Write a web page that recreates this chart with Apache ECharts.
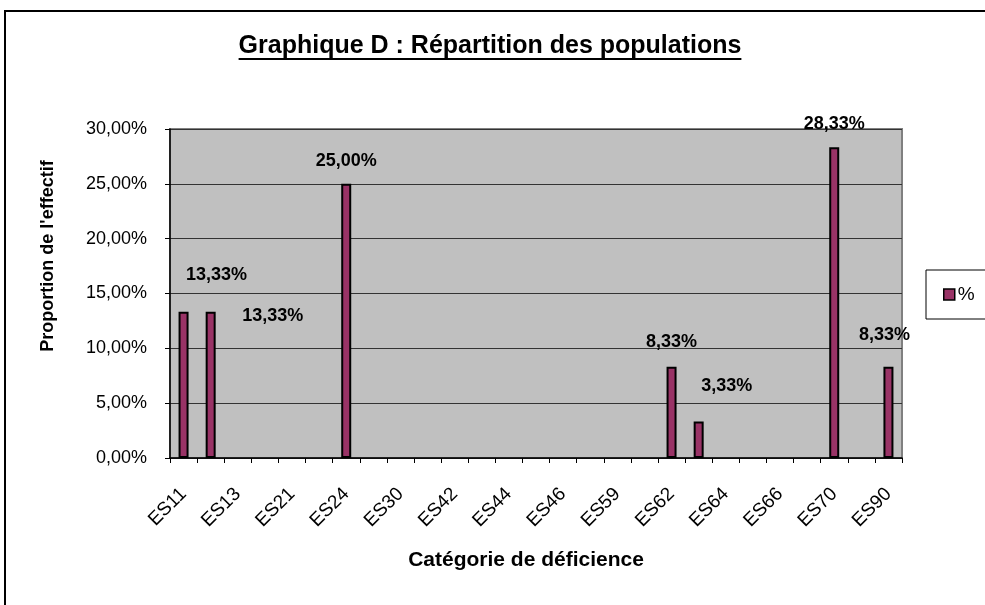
<!DOCTYPE html>
<html>
<head>
<meta charset="utf-8">
<script src="https://cdn.jsdelivr.net/npm/echarts@6/dist/echarts.min.js"></script>
<style>
  html, body { margin: 0; padding: 0; background: #fff; }
  #chart { width: 985px; height: 605px; }
</style>
</head>
<body>
<div id="chart"></div>
<script>
// 27 categories; only every other label is printed on the axis (odd-index codes are hidden, guessed)
const categories = ['ES11','ES12','ES13','ES14','ES21','ES22','ES24','ES25','ES30','ES41','ES42','ES43','ES44','ES45',
                    'ES46','ES47','ES59','ES60','ES62','ES63','ES64','ES65','ES66','ES68','ES70','ES80','ES90'];
const values = [13.33,13.33,null,null,null,null,25.00,null,null,null,null,null,null,null,
                null,null,null,null,8.33,3.33,null,null,null,null,28.33,null,8.33];
const yTicks = [0,5,10,15,20,25,30];
const seriesName = '%';
const titleText = 'Graphique D : Répartition des populations';
const xName = 'Catégorie de déficience';
const yName = "Proportion de l'effectif";

// label displacement (style only) for the bar labels that were moved in the original
const labelOffsets = { 0: [33, -14], 1: [62, 27], 19: [28, -12], 26: [-4, -9], 18: [0, -2] };

const FONT = 'Arial, "Liberation Sans", sans-serif';
const fmt = v => v.toFixed(2).replace('.', ',') + '%';

const chart = echarts.init(document.getElementById('chart'), null, { renderer: 'canvas' });

const ctx = document.createElement('canvas').getContext('2d');
ctx.font = 'bold 25px ' + FONT;
const titleW = ctx.measureText(titleText).width;

const seriesData = values.map((v, i) => {
  const item = { value: v };
  if (labelOffsets[i]) item.label = { offset: labelOffsets[i] };
  return item;
});

chart.setOption({
  backgroundColor: '#ffffff',
  animation: false,
  textStyle: { fontFamily: FONT },
  graphic: [
    { type: 'rect', shape: { x: 5, y: 11, width: 1100, height: 700 },
      style: { fill: 'none', stroke: '#000', lineWidth: 2 }, z: 100 },
    { type: 'text', x: 490, y: 46,
      style: { text: titleText, fill: '#000', font: 'bold 25px ' + FONT,
               align: 'center', verticalAlign: 'middle' }, z: 100 },
    { type: 'line', shape: { x1: 490 - titleW / 2, y1: 59, x2: 490 + titleW / 2, y2: 59 },
      style: { stroke: '#000', lineWidth: 2 }, z: 100 },
    { type: 'text', x: 526, y: 560,
      style: { text: xName, fill: '#000', font: 'bold 21px ' + FONT,
               align: 'center', verticalAlign: 'middle' }, z: 100 },
    { type: 'text', x: 48, y: 256, rotation: Math.PI / 2,
      style: { text: yName, fill: '#000', font: 'bold 18px ' + FONT,
               align: 'center', verticalAlign: 'middle' }, z: 100 }
  ],
  legend: {
    left: 926, top: 270,
    orient: 'vertical',
    data: [seriesName],
    icon: 'rect',
    itemWidth: 11, itemHeight: 11,
    itemGap: 4,
    padding: [15, 20, 15, 17],
    borderColor: '#000', borderWidth: 1,
    backgroundColor: '#fff',
    textStyle: { fontSize: 19, color: '#000', padding: [0, 0, 0, -2] },
    itemStyle: { borderColor: '#000', borderWidth: 1.5 }
  },
  grid: {
    left: 170, right: 83, top: 129, bottom: 147,
    show: true, backgroundColor: '#C0C0C0', borderColor: '#808080', borderWidth: 2
  },
  xAxis: {
    type: 'category',
    data: categories,
    boundaryGap: true,
    axisLine: { show: true, lineStyle: { color: '#000', width: 1.5 } },
    axisTick: { show: true, interval: 0, length: 5, lineStyle: { color: '#000' } },
    axisLabel: { interval: 1, rotate: 45, fontSize: 19, color: '#000', margin: 33 },
    splitLine: { show: false }
  },
  yAxis: {
    type: 'value',
    min: yTicks[0], max: yTicks[yTicks.length - 1], interval: yTicks[1] - yTicks[0],
    axisLine: { show: true, lineStyle: { color: '#000', width: 1.5 } },
    axisTick: { show: true, length: 5, lineStyle: { color: '#000' } },
    axisLabel: { formatter: fmt, fontSize: 18, color: '#000', margin: 23 },
    splitLine: { show: true, lineStyle: { color: '#333', width: 1 } }
  },
  series: [{
    name: seriesName,
    type: 'bar',
    data: seriesData,
    barWidth: 10,
    itemStyle: { color: '#993366', borderColor: '#000', borderWidth: 2 },
    label: {
      show: true, position: 'top', distance: 14,
      formatter: p => fmt(p.value),
      fontSize: 18, fontWeight: 'bold', color: '#000'
    }
  }]
});
</script>
</body>
</html>
